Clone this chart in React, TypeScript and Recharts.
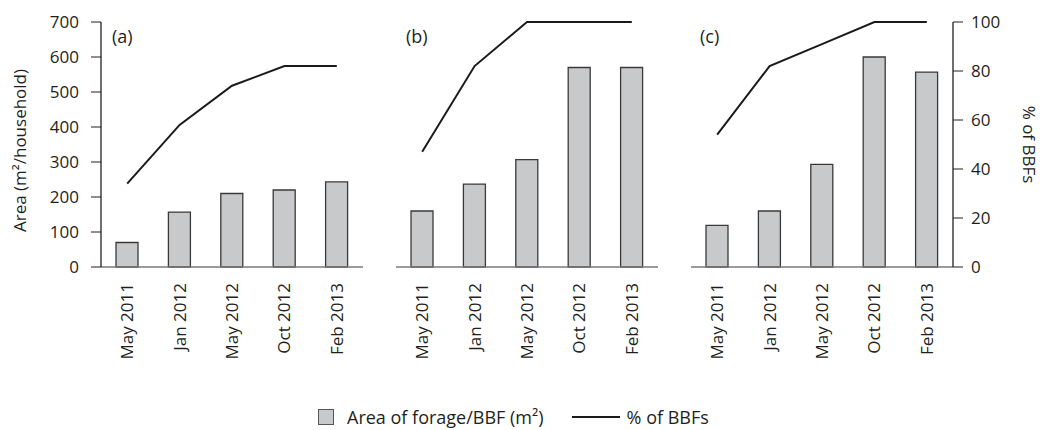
import React from "react";
import {
     ComposedChart,
     Bar,
     Line,
     XAxis,
     YAxis
} from "recharts";

const months = ["May 2011", "Jan 2012", "May 2012", "Oct 2012", "Feb 2013"];
const areaA = [70, 157, 210, 220, 243];
const pctA = [34, 58, 74, 82, 82];
const areaB = [160, 237, 307, 570, 570];
const pctB = [47, 82, 100, 100, 100];
const areaC = [119, 160, 293, 600, 557];
const pctC = [54, 82, 91, 100, 100];
const areaTicks = [0, 100, 200, 300, 400, 500, 600, 700];
const pctTicks = [0, 20, 40, 60, 80, 100];

const font = "'Open Sans', sans-serif";
const ink = "#231f20";
const frame = "#7a7a7a";

const rows = (area: number[], pct: number[]) =>
     months.map((m, i) => ({ month: m, area: area[i], pct: pct[i] }));

const MonthTick = (props: any) => {
     const { x, y, payload } = props;
     return (
          <g transform={`translate(${x},${y})`}>
               <text
                    x={-16}
                    dy="0.35em"
                    textAnchor="end"
                    transform="rotate(-90)"
                    fontFamily={font}
                    fontSize={17}
                    fill={ink}
               >
                    {payload.value}
               </text>
          </g>
     );
};

const Panel = ({ data, left, leftAxis, rightAxis }: any) => {
     const leftW = leftAxis ? 101 : 0;
     const rightW = rightAxis ? 87 : 0;
     const mLeft = leftAxis ? 0 : 6;
     const mRight = rightAxis ? 0 : 6;
     return (
          <div style={{ position: "absolute", left: left, top: 0 }}>
               <ComposedChart
                    width={mLeft + leftW + 262 + rightW + mRight}
                    height={377}
                    data={data}
                    margin={{ top: 22, right: mRight, left: mLeft, bottom: 0 }}
               >
                    <XAxis
                         dataKey="month"
                         height={110}
                         tickLine={false}
                         tickSize={0}
                         tickMargin={0}
                         interval={0}
                         axisLine={{ stroke: frame, strokeWidth: 1.5 }}
                         tick={<MonthTick />}
                    />
                    <YAxis
                         yAxisId="area"
                         domain={[0, 700]}
                         ticks={areaTicks}
                         width={leftW}
                         tick={leftAxis ? { fontFamily: font, fontSize: 17, fill: ink } : false}
                         tickLine={leftAxis ? { stroke: ink } : false}
                         tickSize={10}
                         tickMargin={12}
                         axisLine={{ stroke: leftAxis ? ink : frame, strokeWidth: 1.3 }}
                         label={
                              leftAxis
                                   ? (p: any) => {
                                          const vb = p.viewBox;
                                          const cy = vb.y + vb.height / 2 + 6;
                                          return (
                                               <text
                                                    x={20}
                                                    y={cy}
                                                    dy="0.35em"
                                                    textAnchor="middle"
                                                    transform={`rotate(-90, 20, ${cy})`}
                                                    fontFamily={font}
                                                    fontSize={17}
                                                    fill={ink}
                                               >
                                                    Area (m²/household)
                                               </text>
                                          );
                                     }
                                   : undefined
                         }
                    />
                    <YAxis
                         yAxisId="pct"
                         orientation="right"
                         domain={[0, 100]}
                         ticks={pctTicks}
                         width={rightW}
                         tick={rightAxis ? { fontFamily: font, fontSize: 17, fill: ink } : false}
                         tickLine={rightAxis ? { stroke: ink } : false}
                         tickSize={10}
                         tickMargin={8}
                         axisLine={{ stroke: rightAxis ? ink : frame, strokeWidth: 1.3 }}
                         label={
                              rightAxis
                                   ? (p: any) => {
                                          const vb = p.viewBox;
                                          const cx = vb.x + 76;
                                          const cy = vb.y + vb.height / 2;
                                          return (
                                               <text
                                                    x={cx}
                                                    y={cy}
                                                    dy="0.35em"
                                                    textAnchor="middle"
                                                    transform={`rotate(90, ${cx}, ${cy})`}
                                                    fontFamily={font}
                                                    fontSize={17}
                                                    fill={ink}
                                               >
                                                    % of BBFs
                                               </text>
                                          );
                                     }
                                   : undefined
                         }
                    />
                    <Bar
                         yAxisId="area"
                         dataKey="area"
                         barSize={22}
                         fill="#c8c9cb"
                         stroke="#3a3a3a"
                         strokeWidth={1.3}
                         isAnimationActive={false}
                    />
                    <Line
                         yAxisId="pct"
                         dataKey="pct"
                         type="linear"
                         stroke="#1a1a1a"
                         strokeWidth={2}
                         dot={false}
                         isAnimationActive={false}
                    />
               </ComposedChart>
          </div>
     );
};

const tag = (text: string, x: number) => (
     <div
          style={{
               position: "absolute",
               left: x,
               top: 26,
               fontFamily: font,
               fontSize: 18,
               lineHeight: "20px",
               color: ink
          }}
     >
          {text}
     </div>
);

const App = () => {
     return (
          <div
               style={{
                    position: "absolute",
                    left: 0,
                    top: 0,
                    width: 1040,
                    height: 430,
                    background: "#fff",
                    overflow: "hidden"
               }}
          >
               <Panel data={rows(areaA, pctA)} left={0} leftAxis={true} rightAxis={false} />
               <Panel data={rows(areaB, pctB)} left={390} leftAxis={false} rightAxis={false} />
               <Panel data={rows(areaC, pctC)} left={685} leftAxis={false} rightAxis={true} />
               {tag("(a)", 112)}
               {tag("(b)", 406)}
               {tag("(c)", 700)}
               <div
                    style={{
                         position: "absolute",
                         left: 318,
                         top: 406,
                         height: 22,
                         display: "flex",
                         alignItems: "center",
                         fontFamily: font,
                         fontSize: 18,
                         color: ink,
                         lineHeight: "22px",
                         whiteSpace: "nowrap"
                    }}
               >
                    <span
                         style={{
                              width: 14,
                              height: 14,
                              background: "#c8c9cb",
                              border: "1px solid #555",
                              marginRight: 13
                         }}
                    />
                    <span>Area of forage/BBF (m²)</span>
                    <span
                         style={{
                              width: 48,
                              height: 2,
                              background: "#1a1a1a",
                              marginLeft: 28,
                              marginRight: 7
                         }}
                    />
                    <span>% of BBFs</span>
               </div>
          </div>
     );
};

export default App;
